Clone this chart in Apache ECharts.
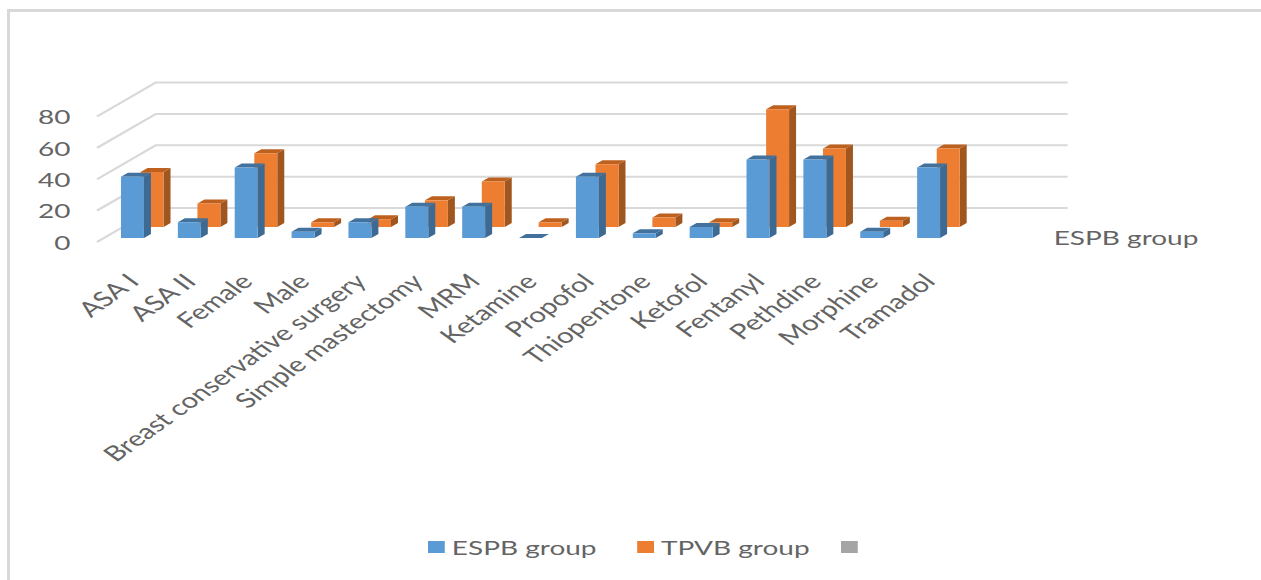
<!DOCTYPE html>
<html>
<head>
<meta charset="utf-8">
<style>
  html, body { margin: 0; padding: 0; background: #fff; overflow: hidden; }
  #stage { width: 1261px; height: 580px; overflow: hidden; position: relative; }
  /* The chart is laid out narrow and widened as a whole, so type and bars widen together. */
  #chart { width: 901px; height: 580px; transform: scaleX(1.4); transform-origin: 0 0; }
  #frame { position: absolute; left: 7px; top: 9px; right: -4px; bottom: -4px; border: 3px solid #d9d9d9; }
</style>
</head>
<body>
<div id="stage"><div id="frame"></div><div id="chart"></div></div>
<script src="https://cdn.jsdelivr.net/npm/echarts@6/dist/echarts.min.js"></script>
<script>
const categories = ['ASA I', 'ASA II', 'Female', 'Male', 'Breast conservative surgery', 'Simple mastectomy', 'MRM', 'Ketamine', 'Propofol', 'Thiopentone', 'Ketofol', 'Fentanyl', 'Pethdine', 'Morphine', 'Tramadol'];
const espbValues = [39, 10, 45, 4, 10, 20, 20, 0, 39, 3, 7, 50, 50, 4, 45];
const tpvbValues = [35, 15, 47, 3, 5, 17, 29, 3, 40, 6, 3, 75, 50, 4, 50];
const valueTicks = [0, 20, 40, 60, 80];
const seriesNames = ['ESPB group', 'TPVB group', ' '];
const depthAxisLabel = 'ESPB group';

const FONT = 'Lato';
const TEXT = '#646464';

// Oblique projection used for the pseudo-3D columns and walls.
const BAR_W = 16.4, SIDE_DX = 5, SIDE_DY = 4;
const WALL_DX = 42, WALL_DY = 34, WALL_LEFT = -5, WALL_RIGHT = 79;

function wallItem(params, api) {
  const cs = params.coordSys;
  const y = api.coord([0, api.value(0)])[1];
  const x0 = cs.x + WALL_LEFT;
  const x1 = x0 + WALL_DX;
  const x2 = cs.x + cs.width + WALL_RIGHT;
  return {
    type: 'polyline',
    shape: { points: [[x0, y], [x1, y - WALL_DY], [x2, y - WALL_DY]] },
    style: { stroke: '#d9d9d9', lineWidth: 2, fill: null },
    silent: true
  };
}

function columnItem(dx, baseLift, front, side, top) {
  return function (params, api) {
    const p = api.coord([api.value(0), api.value(1)]);
    const b = api.coord([api.value(0), 0]);
    const xl = p[0] - BAR_W / 2 + dx;
    const xr = xl + BAR_W;
    const yt = p[1] - baseLift;
    const yb = b[1] - baseLift;
    return {
      type: 'group',
      children: [
        { type: 'polygon', shape: { points: [[xr, yt], [xr + SIDE_DX, yt - SIDE_DY], [xr + SIDE_DX, yb - SIDE_DY], [xr, yb]] }, style: { fill: side } },
        { type: 'polygon', shape: { points: [[xl, yt], [xl + SIDE_DX, yt - SIDE_DY], [xr + SIDE_DX, yt - SIDE_DY], [xr, yt]] }, style: { fill: top } },
        { type: 'rect', shape: { x: xl, y: yt, width: BAR_W, height: yb - yt }, style: { fill: front } }
      ]
    };
  };
}

const legendBase = {
  top: 537,
  padding: 0,
  itemWidth: 12,
  itemHeight: 12,
  icon: 'rect',
  textStyle: { fontFamily: FONT, fontSize: 20, color: TEXT }
};

const chart = echarts.init(document.getElementById('chart'), null, { renderer: 'svg' });
chart.setOption({
  animation: false,
  backgroundColor: 'transparent',
  grid: { left: 74.3, top: 116.5, width: 609.3, height: 125.5 },
  xAxis: {
    type: 'category',
    data: categories,
    name: depthAxisLabel,
    nameLocation: 'end',
    nameGap: 69,
    nameTextStyle: { fontFamily: FONT, fontSize: 20, color: TEXT, verticalAlign: 'bottom', lineHeight: 10 },
    axisLine: { show: false },
    axisTick: { show: false },
    splitLine: { show: false },
    axisLabel: { rotate: 45, interval: 0, margin: 35, padding: [0, 0, 30, 0], fontFamily: FONT, fontSize: 21, color: TEXT }
  },
  yAxis: {
    type: 'value',
    min: 0,
    max: 80,
    interval: 20,
    axisLine: { show: false },
    axisTick: { show: false },
    splitLine: { show: false },
    axisLabel: { margin: 24, fontFamily: FONT, fontSize: 20, color: TEXT }
  },
  legend: [
    Object.assign({}, legendBase, { left: 305.7, itemGap: 29, data: seriesNames.slice(0, 2) }),
    Object.assign({}, legendBase, { left: 600.7, data: seriesNames.slice(2) })
  ],
  series: [
    {
      type: 'custom',
      name: 'walls',
      coordinateSystem: 'cartesian2d',
      renderItem: wallItem,
      data: valueTicks.map(v => [v]),
      encode: { y: 0 },
      clip: false,
      silent: true,
      z: 1
    },
    {
      type: 'custom',
      name: seriesNames[1],
      coordinateSystem: 'cartesian2d',
      renderItem: columnItem(14, 15, '#ED7D31', '#A0561F', '#BE611F'),
      data: tpvbValues.map((v, i) => [i, v]),
      encode: { x: 0, y: 1 },
      itemStyle: { color: '#ED7D31' },
      clip: false,
      z: 2
    },
    {
      type: 'custom',
      name: seriesNames[0],
      coordinateSystem: 'cartesian2d',
      renderItem: columnItem(0, 4, '#5B9BD5', '#3D6A92', '#41719C'),
      data: espbValues.map((v, i) => [i, v]),
      encode: { x: 0, y: 1 },
      itemStyle: { color: '#5B9BD5' },
      clip: false,
      z: 3
    },
    {
      type: 'custom',
      name: seriesNames[2],
      coordinateSystem: 'cartesian2d',
      renderItem: function () { return null; },
      data: [],
      itemStyle: { color: '#A5A5A5' }
    }
  ]
});
</script>
</body>
</html>
